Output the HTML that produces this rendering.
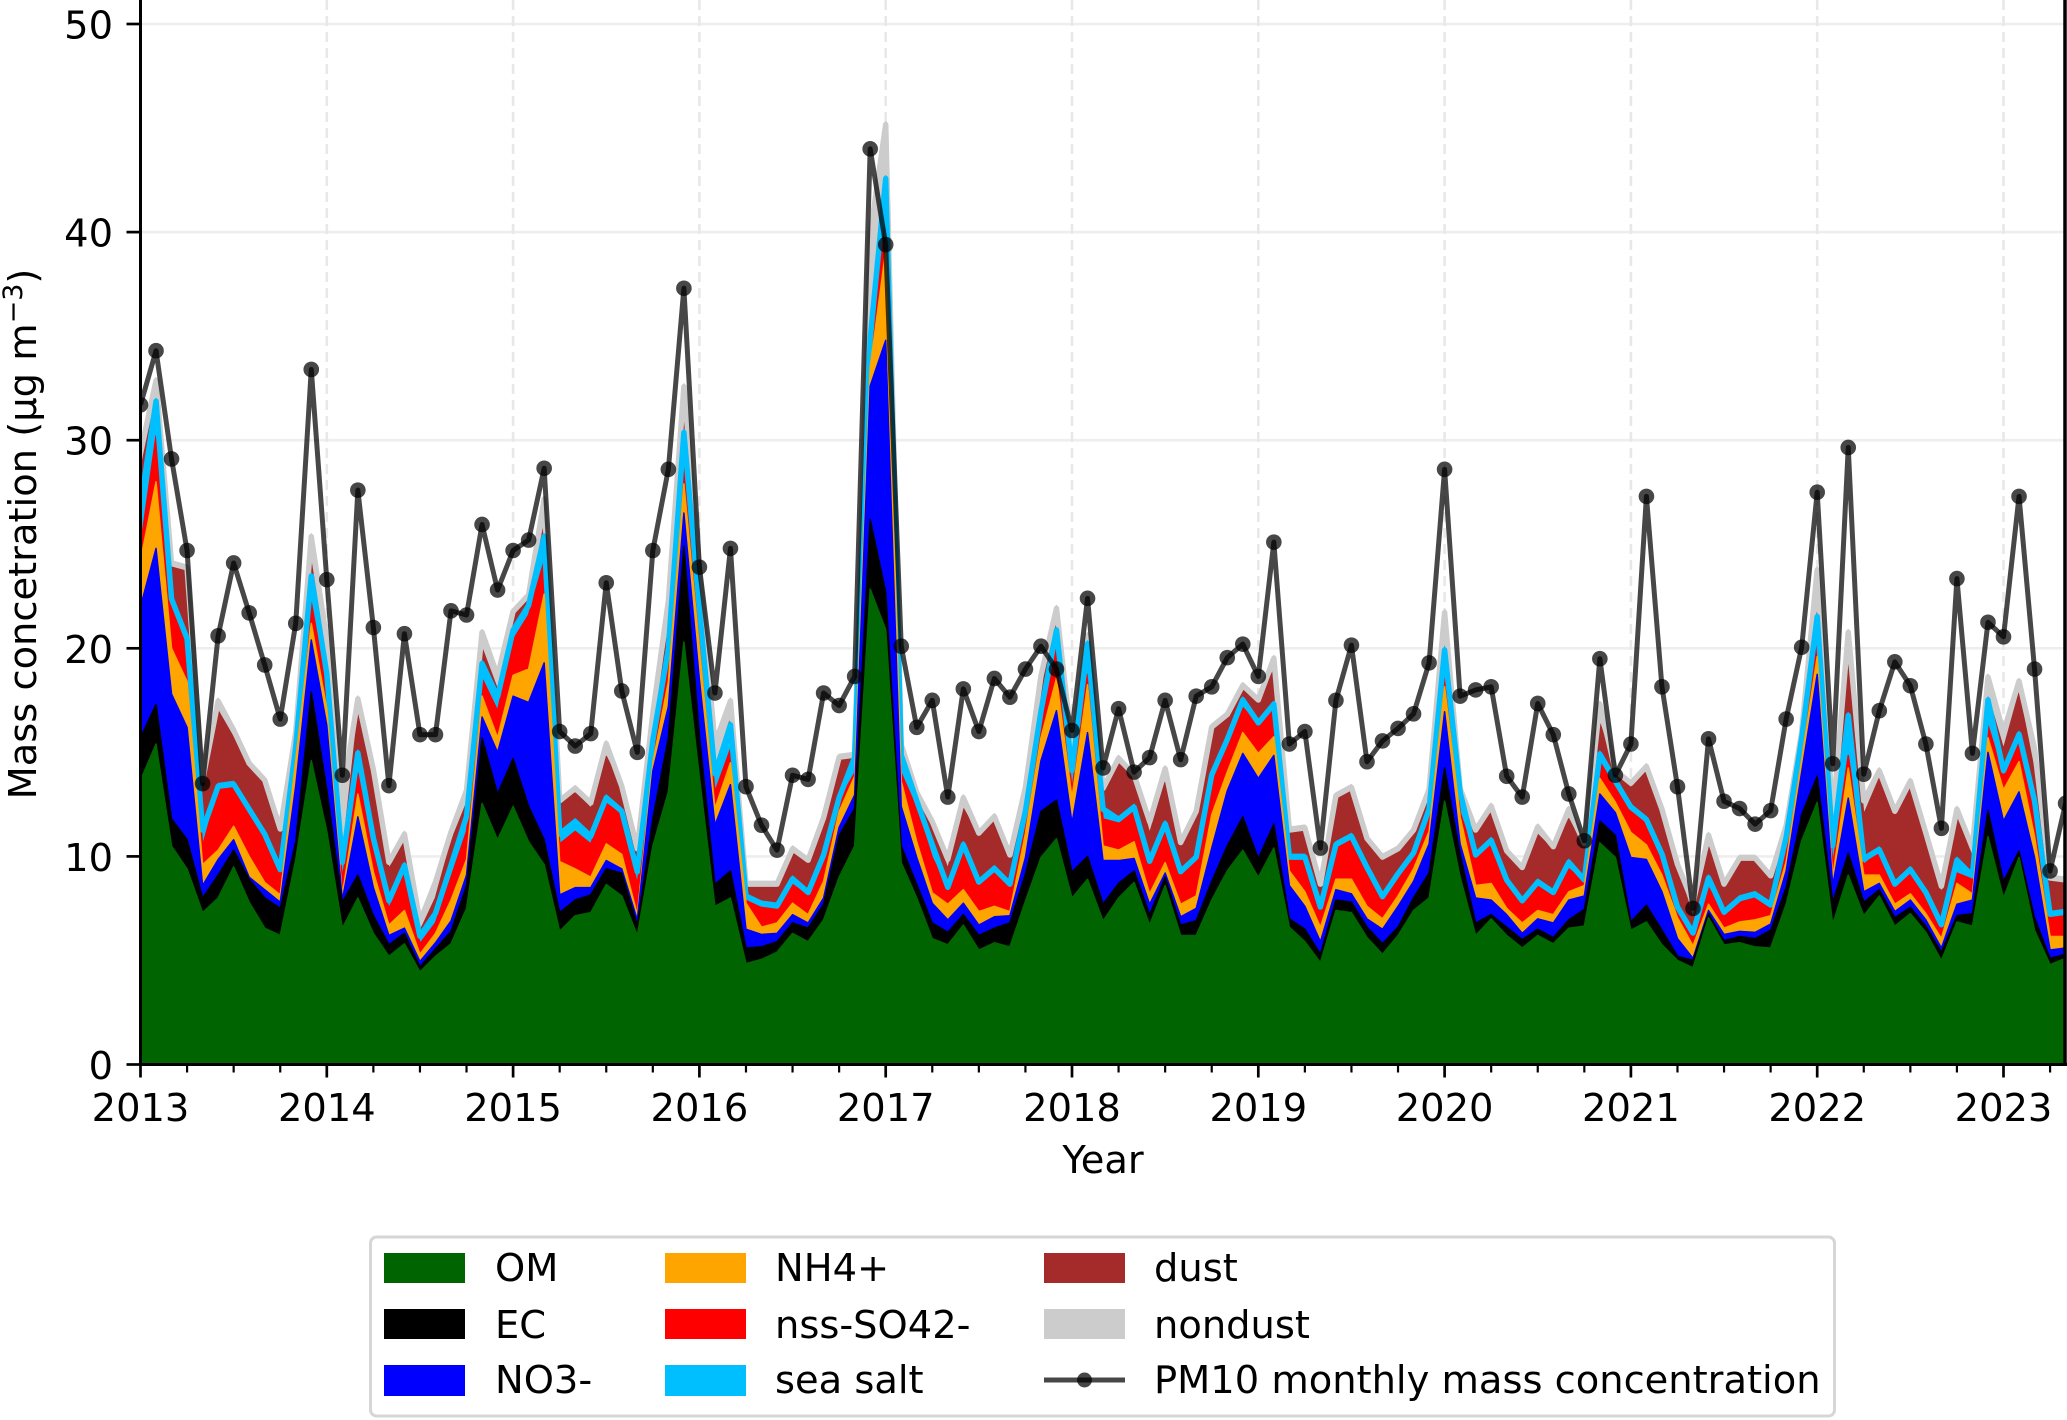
<!DOCTYPE html>
<html lang="en">
<head>
<meta charset="utf-8">
<title>Mass concentration stack chart</title>
<style>
html,body{margin:0;padding:0;background:#fff;}
svg{display:block;font-family:"DejaVu Sans","Liberation Sans",sans-serif;}
</style>
</head>
<body>
<svg id="chart" xmlns="http://www.w3.org/2000/svg" width="2067" height="1420" viewBox="0 0 2067 1420">
  <defs>
    <clipPath id="plot-clip"><rect x="140.5" y="-10" width="1925" height="1074.5"></rect></clipPath>
  </defs>
  <rect x="0" y="0" width="2067" height="1420" fill="#ffffff"></rect>
  <g id="grid"></g>
  <g id="stack" clip-path="url(#plot-clip)"></g>
  <g id="line" clip-path="url(#plot-clip)"></g>
  <g id="axes"></g>
  <text x="1103" y="1173" font-size="38.4" text-anchor="middle" fill="#000">Year</text>
  <text transform="translate(36,534) rotate(-90)" font-size="38.4" text-anchor="middle" fill="#000">Mass concetration (µg m<tspan dy="-14" font-size="27">−3</tspan><tspan dy="14">)</tspan></text>
  <g>
    <rect x="370.5" y="1237" width="1464" height="179" rx="6" fill="#ffffff" stroke="#d6d6d6" stroke-width="3"></rect>
    <rect x="384" y="1253" width="81" height="30" fill="#006400"></rect>
    <rect x="384" y="1309" width="81" height="30" fill="#000000"></rect>
    <rect x="384" y="1365" width="81" height="31" fill="#0000ff"></rect>
    <rect x="665" y="1253" width="81" height="30" fill="#ffa500"></rect>
    <rect x="665" y="1309" width="81" height="30" fill="#ff0000"></rect>
    <rect x="665" y="1365" width="81" height="31" fill="#00bfff"></rect>
    <rect x="1044" y="1253" width="81" height="30" fill="#a52a2a"></rect>
    <rect x="1044" y="1309" width="81" height="30" fill="#cccccc"></rect>
    <line x1="1044" y1="1380" x2="1125" y2="1380" stroke="#000" stroke-opacity="0.72" stroke-width="5"></line>
    <circle cx="1084.5" cy="1380" r="7.5" fill="#000" fill-opacity="0.72"></circle>
    <g font-size="38.4" fill="#000">
      <text x="495" y="1281">OM</text>
      <text x="495" y="1338">EC</text>
      <text x="495" y="1393">NO3-</text>
      <text x="775" y="1281">NH4+</text>
      <text x="775" y="1338">nss-SO42-</text>
      <text x="775" y="1393">sea salt</text>
      <text x="1154" y="1281">dust</text>
      <text x="1154" y="1338">nondust</text>
      <text x="1154" y="1393">PM10 monthly mass concentration</text>
    </g>
  </g>
</svg>
<script>
// Monthly values from January 2013 to May 2023. Each "Top" array is the upper edge of that stacked layer.
const omTop = [
13.65,15.4,10.5,9.4,7.3,8.0,9.5,7.8,6.55,6.2,
9.85,14.6,11.2,6.55,8.0,6.3,5.2,5.8,4.45,5.2,
5.8,7.5,12.55,10.8,12.4,10.7,9.6,6.4,7.15,7.3,
8.65,8.1,6.2,10.5,13.1,20.3,13.8,7.6,8.0,4.85,
5.05,5.4,6.3,5.9,6.95,9.0,10.5,22.85,20.9,9.7,
8.0,6.05,5.75,6.7,5.5,5.85,5.65,7.85,9.95,10.85,
8.0,8.9,6.9,8.0,8.75,6.7,8.6,6.2,6.2,7.9,
9.3,10.3,9.0,10.4,6.6,5.9,4.9,7.4,7.3,6.1,
5.3,6.2,7.4,8.0,12.65,9.0,6.2,7.0,6.2,5.6,
6.2,5.8,6.55,6.65,10.65,9.95,6.45,6.85,5.75,5.0,
4.65,7.05,5.75,5.85,5.65,5.6,7.7,10.75,12.6,6.75,
9.1,7.15,8.1,6.65,7.25,6.35,5.0,6.85,6.65,10.95,
8.0,9.95,6.45,4.8,5.1];
const ecTop = [
15.7,17.3,11.8,10.8,8.0,9.1,10.3,8.9,8.0,7.5,
10.7,17.9,13.2,7.8,9.1,7.15,5.75,6.3,4.7,5.55,
6.4,8.6,15.7,13.0,14.7,12.4,10.8,7.3,7.9,8.15,
9.4,9.2,6.7,11.8,15.7,24.9,15.8,8.65,9.3,5.6,
5.65,5.9,6.8,6.55,7.7,11.0,12.3,26.2,22.7,10.5,
8.65,6.8,6.35,7.2,6.2,6.55,6.8,9.15,12.15,12.7,
9.25,10.0,7.7,8.7,9.3,7.2,9.0,6.7,6.9,8.8,
10.5,11.9,9.9,11.55,7.0,6.5,5.3,7.9,7.8,6.6,
5.8,6.6,8.0,9.2,14.25,10.1,6.8,7.2,6.6,6.0,
6.5,6.1,6.95,7.45,11.7,11.0,6.85,7.65,6.45,5.2,
5.0,7.25,5.95,6.15,6.05,6.45,8.5,12.0,13.85,7.8,
10.15,7.8,8.4,7.05,7.55,6.65,5.4,7.15,7.25,12.2,
8.8,10.25,7.05,5.1,5.3];
const no3Top = [
22.0,24.8,17.8,16.2,8.6,9.85,10.8,9.0,8.4,7.8,
13.4,20.4,16.3,7.9,11.9,8.5,6.2,6.55,4.95,5.85,
6.9,9.1,16.7,15.0,17.7,17.4,19.3,8.15,8.5,8.5,
9.8,9.4,6.95,14.1,17.2,26.5,18.5,11.5,13.45,6.5,
6.25,6.3,7.2,6.8,8.0,11.4,12.95,32.6,34.8,12.4,
9.95,7.75,6.95,7.75,6.7,7.1,7.15,9.95,14.6,17.0,
11.6,15.95,9.8,9.8,9.9,7.7,9.2,7.1,7.5,10.4,
13.15,14.95,13.75,14.85,8.6,7.6,5.9,8.4,8.2,7.0,
6.5,7.6,8.8,10.6,16.95,10.6,8.0,7.9,7.2,6.3,
7.0,6.8,7.9,8.1,13.0,12.1,9.95,9.85,8.3,6.05,
5.1,7.4,6.25,6.4,6.35,6.75,9.3,14.05,18.75,8.6,
12.8,8.3,8.7,7.35,7.9,6.95,5.6,7.7,7.9,15.0,
11.7,13.1,9.95,5.5,5.6];
const nh4Top = [
24.2,28.0,20.0,18.4,9.6,10.3,11.45,10.0,8.75,8.15,
14.6,21.2,17.1,8.15,13.0,9.25,6.7,7.4,5.3,6.3,
7.9,9.85,17.7,15.7,18.7,19.0,22.6,9.75,9.4,9.0,
10.6,10.1,7.2,14.5,18.4,27.9,20.0,12.3,14.5,7.75,
6.6,6.8,7.75,7.2,8.8,12.15,13.85,33.5,39.1,13.6,
10.7,8.25,7.7,8.4,7.35,7.6,7.35,11.1,15.7,18.55,
12.8,18.25,10.5,10.3,10.7,8.2,9.7,7.7,8.1,12.0,
14.05,15.95,14.95,15.75,9.3,8.3,6.6,8.9,8.9,7.6,
7.0,8.1,9.4,11.2,18.15,11.9,8.6,8.7,7.5,6.8,
7.4,7.2,8.3,8.6,13.75,12.6,11.15,10.55,9.1,7.05,
5.7,7.7,6.55,6.85,6.95,7.15,9.75,14.65,19.6,9.0,
14.25,9.1,9.1,7.7,8.2,7.25,6.05,8.7,8.2,15.7,
13.2,14.55,10.95,6.15,6.15];
const so4Top = [
24.9,30.2,22.0,20.5,10.5,13.2,13.4,12.2,11.0,9.1,
15.1,22.2,18.1,8.9,14.0,10.2,7.5,9.2,5.8,6.8,
9.0,11.2,18.55,17.0,20.4,21.6,24.2,10.6,11.2,10.6,
12.55,12.0,8.65,14.9,19.05,28.8,21.0,13.1,15.15,8.0,
7.75,7.55,8.65,8.1,9.95,12.7,14.0,34.2,40.7,14.0,
12.3,9.95,8.4,10.5,8.65,9.3,8.5,11.5,16.7,20.35,
13.2,18.75,11.8,11.6,12.2,9.5,11.3,9.1,9.9,13.65,
15.55,17.15,16.35,17.05,9.9,9.8,7.5,10.6,11.0,9.4,
8.0,9.1,10.1,12.0,18.95,12.1,9.9,10.6,8.7,7.8,
8.7,8.2,9.4,8.8,14.55,13.3,12.2,11.7,10.05,7.5,
6.15,8.5,7.25,7.8,8.1,7.7,10.75,15.2,20.6,9.55,
14.85,9.6,10.25,8.6,9.4,8.2,6.55,9.2,8.9,16.3,
13.85,15.5,12.4,7.05,7.25];
const seaSaltTop = [
27.0,32.0,22.5,20.6,11.4,13.5,13.6,12.4,11.2,9.5,
15.4,23.6,18.9,9.85,15.1,11.0,8.0,9.7,6.3,7.4,
9.7,12.05,19.4,17.8,21.0,22.2,25.5,11.2,11.8,11.1,
12.95,12.3,9.4,15.7,20.1,30.5,22.0,14.1,16.45,8.2,
7.85,7.75,9.05,8.4,10.2,12.95,14.9,35.0,42.7,15.0,
12.8,10.7,8.65,10.7,8.9,9.55,8.8,12.3,17.1,21.0,
14.25,20.35,12.4,11.9,12.5,9.9,11.7,9.4,10.1,14.05,
15.75,17.65,16.55,17.45,10.1,10.1,7.7,10.7,11.1,9.6,
8.2,9.3,10.3,12.4,20.05,13.2,10.2,10.9,9.0,8.0,
8.9,8.4,9.85,9.0,15.05,13.75,12.5,11.9,10.25,7.7,
6.45,9.1,7.45,8.1,8.3,7.8,11.05,15.8,21.65,10.65,
16.9,10.0,10.45,8.8,9.5,8.4,6.85,9.95,9.2,17.65,
14.25,16.0,12.8,7.35,7.45];
const dustTop = [
28.5,32.3,24.1,23.8,13.2,17.0,15.7,14.5,13.5,11.1,
15.7,24.1,19.3,10.0,16.8,13.4,9.4,10.7,6.4,8.0,
10.7,12.55,20.0,18.0,21.5,22.5,25.9,12.7,13.2,12.3,
14.8,13.3,10.2,16.2,20.9,30.9,22.2,14.2,16.6,8.7,
8.6,8.65,10.2,9.7,11.5,14.6,14.95,35.2,43.0,15.2,
13.05,11.5,9.4,12.3,10.95,11.75,9.95,13.05,18.0,21.25,
14.5,20.5,13.0,14.45,13.75,11.1,13.55,10.4,12.0,16.15,
16.75,18.05,17.55,18.95,11.2,11.3,8.4,12.9,13.25,10.8,
9.9,10.2,11.2,12.9,20.1,13.25,11.2,12.2,10.1,9.3,
11.05,10.3,11.8,10.35,16.4,14.05,13.3,14.15,12.1,9.5,
7.05,10.45,8.6,9.85,9.85,9.0,11.4,15.9,21.7,10.7,
19.2,12.0,13.75,12.0,13.3,10.95,8.2,11.9,9.95,17.7,
15.15,17.85,14.05,8.9,8.75];
const nondustTop = [
29.5,33.0,24.2,24.0,13.8,17.6,16.2,14.6,13.8,11.45,
16.1,25.5,20.5,13.0,17.7,14.3,9.85,11.2,7.0,8.9,
11.3,13.3,20.9,18.8,21.9,22.7,27.3,12.8,13.4,12.7,
15.55,13.5,10.5,17.0,22.4,32.7,24.0,15.55,17.6,8.8,
8.8,8.8,10.5,9.95,12.0,14.9,15.0,40.0,45.3,15.5,
13.2,11.8,10.0,12.95,11.25,12.05,10.2,13.45,18.8,22.05,
15.4,20.75,13.4,14.85,14.05,11.8,14.35,10.8,12.3,16.35,
16.95,18.35,17.65,19.65,11.4,11.5,8.8,13.05,13.45,11.0,
10.1,10.5,11.4,13.35,21.85,13.4,11.4,12.55,10.4,9.6,
11.55,10.6,12.4,10.75,17.45,14.25,13.65,14.45,12.4,9.75,
7.9,11.15,8.8,10.05,10.05,9.2,11.6,16.1,23.9,12.0,
20.9,12.8,14.25,12.3,13.75,11.25,8.7,12.4,10.55,18.75,
16.1,18.55,15.3,9.1,9.0];
const pm10 = [
31.7,34.3,29.1,24.7,13.5,20.6,24.1,21.7,19.2,16.6,
21.2,33.4,23.3,13.9,27.6,21.0,13.4,20.7,15.85,15.85,
21.8,21.6,25.95,22.8,24.7,25.2,28.65,16.0,15.3,15.9,
23.15,17.95,15.0,24.7,28.6,37.3,23.9,17.85,24.8,13.35,
11.5,10.3,13.9,13.7,17.85,17.25,18.65,44.0,39.4,20.1,
16.2,17.5,12.85,18.05,16.0,18.55,17.65,19.0,20.1,19.0,
16.05,22.4,14.25,17.1,14.05,14.75,17.5,14.65,17.7,18.15,
19.55,20.2,18.65,25.1,15.4,16.0,10.4,17.5,20.15,14.55,
15.55,16.15,16.85,19.3,28.6,17.7,18.0,18.15,13.85,12.85,
17.35,15.85,13.0,10.75,19.5,13.9,15.4,27.3,18.15,13.35,
7.5,15.65,12.65,12.3,11.55,12.2,16.6,20.05,27.5,14.45,
29.65,13.95,17.0,19.35,18.2,15.4,11.35,23.35,14.95,21.25,
20.55,27.3,19.0,9.3,12.55];
const yearLabels = ["2013","2014","2015","2016","2017","2018","2019","2020","2021","2022","2023"];
const yTickValues = [0,10,20,30,40,50];
const monthsPerYear = 12;
const monthsPerMinorTick = 3;

const NS = "http://www.w3.org/2000/svg";
const plotLeft = 140.5, plotRight = 2065, plotBottom = 1064.5, monthWidth = 15.525, unitHeight = 20.81;
function xAxis(monthIndex){ return plotLeft + monthIndex * monthWidth; }
function yAxis(value){ return plotBottom - value * unitHeight; }
function make(parent, tag, attrs){
  const el = document.createElementNS(NS, tag);
  for (const key in attrs) el.setAttribute(key, attrs[key]);
  parent.appendChild(el);
  return el;
}
const gridGroup = document.getElementById("grid");
const stackGroup = document.getElementById("stack");
const lineGroup = document.getElementById("line");
const axesGroup = document.getElementById("axes");
const monthCount = pm10.length;

yTickValues.forEach(function(v){
  if (v === 0) return;
  const el = make(gridGroup, "line", {x1: plotLeft, x2: plotRight, y1: yAxis(v), y2: yAxis(v), stroke: "#eeeeee", "stroke-width": 2.6});
  
  
});
yearLabels.forEach(function(label, n){
  if (n === 0) return;
  const x = xAxis(n * monthsPerYear);
  const el = make(gridGroup, "line", {x1: x, x2: x, y1: 0, y2: plotBottom, stroke: "#e8e8e8", "stroke-width": 2.6, "stroke-dasharray": "10 6"});
  
  
});

const layers = [
  {name: "area-nondust", values: nondustTop, color: "#cccccc"},
  {name: "area-dust", values: dustTop, color: "#a52a2a", edge: {name: "nondust-edge", values: nondustTop, color: "#cccccc"}},
  {name: "area-sea-salt", values: seaSaltTop, color: "#00bfff"},
  {name: "area-nss-so4", values: so4Top, color: "#ff0000", edge: {name: "sea-salt-edge", values: seaSaltTop, color: "#00bfff"}},
  {name: "area-nh4", values: nh4Top, color: "#ffa500"},
  {name: "area-no3", values: no3Top, color: "#0000ff"},
  {name: "area-ec", values: ecTop, color: "#000000"},
  {name: "area-om", values: omTop, color: "#006400"}
];
const edgeWidthPx = 5.5;
layers.forEach(function(layer){
  let d = "M" + xAxis(0) + " " + yAxis(0);
  layer.values.forEach(function(v, i){ d += "L" + xAxis(i).toFixed(2) + " " + yAxis(v).toFixed(2); });
  d += "L" + xAxis(monthCount - 1) + " " + yAxis(0) + "Z";
  const el = make(stackGroup, "path", {d: d, fill: layer.color, stroke: layer.color, "stroke-width": 1.5, "stroke-linejoin": "round"});
  
  
  if (layer.edge) {
    const pts = layer.edge.values.map(function(v, i){ return xAxis(i).toFixed(2) + "," + (yAxis(v) + edgeWidthPx / 2).toFixed(2); }).join(" ");
    const edge = make(stackGroup, "polyline", {points: pts, fill: "none", stroke: layer.edge.color, "stroke-width": edgeWidthPx, "stroke-linejoin": "round"});
    
    
  }
});

const linePoints = pm10.map(function(v, i){ return xAxis(i).toFixed(2) + "," + yAxis(v).toFixed(2); }).join(" ");
const pmLine = make(lineGroup, "polyline", {points: linePoints, fill: "none", stroke: "#000", "stroke-opacity": 0.72, "stroke-width": 5, "stroke-linejoin": "round"});


pm10.forEach(function(v, i){
  const dot = make(lineGroup, "circle", {cx: xAxis(i).toFixed(2), cy: yAxis(v).toFixed(2), r: 7.8, fill: "#000", "fill-opacity": 0.72});
  
  
});

yTickValues.forEach(function(v){
  const y = yAxis(v);
  const tick = make(axesGroup, "line", {x1: plotLeft - 14, x2: plotLeft, y1: y, y2: y, stroke: "#000", "stroke-width": 2.7});
  
  
  const label = make(axesGroup, "text", {x: 113, y: y + 14.5, "font-size": 38.4, "text-anchor": "end", fill: "#000"});
  label.textContent = String(v);
  
  
});
for (let m = 0; m < monthCount; m += monthsPerMinorTick) {
  if (m % monthsPerYear === 0) continue;
  const x = xAxis(m);
  const minor = make(axesGroup, "line", {x1: x, x2: x, y1: plotBottom, y2: plotBottom + 8, stroke: "#000", "stroke-width": 2.2});
  
  
}
yearLabels.forEach(function(text, n){
  const x = xAxis(n * monthsPerYear);
  const tick = make(axesGroup, "line", {x1: x, x2: x, y1: plotBottom, y2: plotBottom + 13, stroke: "#000", "stroke-width": 2.7});
  
  
  const label = make(axesGroup, "text", {x: x, y: 1121, "font-size": 38.4, "text-anchor": "middle", fill: "#000"});
  label.textContent = text;
  
  
});
const leftSpine = make(axesGroup, "line", {x1: plotLeft, x2: plotLeft, y1: 0, y2: plotBottom + 1.5, stroke: "#000", "stroke-width": 3});


const bottomSpine = make(axesGroup, "line", {x1: plotLeft - 1.5, x2: plotRight + 2, y1: plotBottom, y2: plotBottom, stroke: "#000", "stroke-width": 3});


const rightSpine = make(axesGroup, "line", {x1: plotRight, x2: plotRight, y1: 0, y2: plotBottom + 1.5, stroke: "#000", "stroke-width": 3.5});


</script>
</body>
</html>
